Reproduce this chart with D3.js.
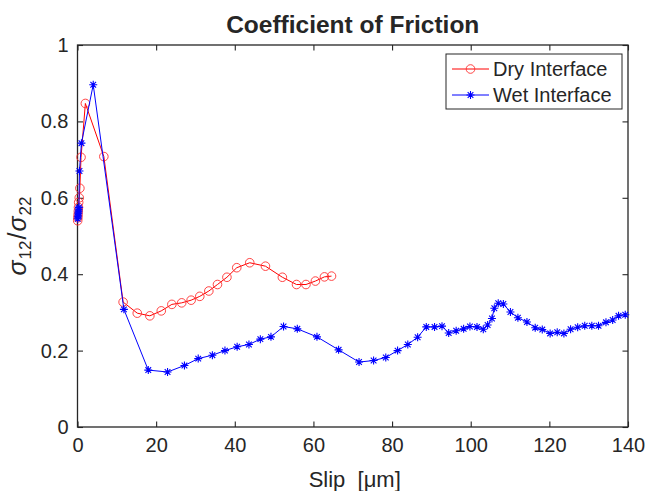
<!DOCTYPE html>
<html>
<head>
<meta charset="utf-8">
<script src="https://cdn.jsdelivr.net/npm/d3@7"></script>
<style>
  body { margin: 0; background: #fff; }
  text { font-family: "Liberation Sans", Arial, sans-serif; fill: #262626; }
</style>
</head>
<body>
<div id="drawArea"></div>
<script>
// slip in µm vs sigma12/sigma22
var dryX = [0.05, 0.1, 0.15, 0.2, 0.25, 0.3, 0.45, 0.6, 0.9, 2.0, 6.7, 11.6, 15.2, 18.4, 21.3, 24.0, 26.5, 28.9, 31.1, 33.4, 35.6, 38.0, 40.5, 43.8, 47.8, 52.1, 55.7, 58.1, 60.5, 62.8, 64.6];
var dryY = [0.540, 0.548, 0.556, 0.565, 0.575, 0.588, 0.600, 0.625, 0.706, 0.847, 0.708, 0.327, 0.298, 0.291, 0.304, 0.321, 0.325, 0.332, 0.342, 0.356, 0.373, 0.392, 0.417, 0.430, 0.421, 0.392, 0.373, 0.373, 0.382, 0.393, 0.395];

var wetX = [0.05, 0.1, 0.15, 0.2, 0.25, 0.3, 0.35, 0.5, 1.0, 4.0, 11.8, 18.0, 22.9, 27.2, 30.7, 34.3, 37.5, 40.6, 43.6, 46.5, 49.2, 52.4, 55.9, 60.9, 66.4, 71.6, 75.3, 78.4, 81.4, 84.0, 86.5, 88.7, 90.8, 92.7, 94.4, 96.3, 98.2, 99.8, 101.6, 103.2, 104.3, 105.4, 106.0, 107.0, 108.3, 110.1, 112.0, 114.3, 116.4, 118.2, 120.2, 122.0, 123.7, 125.4, 127.2, 129.0, 130.8, 132.5, 134.4, 136.1, 137.6, 139.3];
var wetY = [0.545, 0.550, 0.555, 0.560, 0.565, 0.570, 0.575, 0.670, 0.743, 0.896, 0.308, 0.149, 0.144, 0.161, 0.179, 0.188, 0.200, 0.210, 0.216, 0.230, 0.236, 0.263, 0.257, 0.236, 0.202, 0.170, 0.174, 0.182, 0.200, 0.216, 0.235, 0.262, 0.262, 0.264, 0.246, 0.252, 0.257, 0.263, 0.262, 0.256, 0.267, 0.284, 0.311, 0.324, 0.322, 0.301, 0.286, 0.275, 0.260, 0.255, 0.245, 0.248, 0.245, 0.256, 0.261, 0.265, 0.265, 0.265, 0.274, 0.280, 0.291, 0.294];

var xTicks = [0, 20, 40, 60, 80, 100, 120, 140];
var yTicks = [0, 0.2, 0.4, 0.6, 0.8, 1];
var seriesNames = ["Dry Interface", "Wet Interface"];

// plot box
var margin = {top: 45, right: 20, bottom: 64, left: 77.5},
    width = 648 - margin.left - margin.right,
    height = 491 - margin.top - margin.bottom;

var svg = d3.select("#drawArea")
  .append("svg")
  .attr("width", 648)
  .attr("height", 491);

var g = svg.append("g")
  .attr("transform", "translate(" + margin.left + "," + margin.top + ")");

var x = d3.scaleLinear().domain([0, 140]).range([0, width]);
var y = d3.scaleLinear().domain([0, 1]).range([height, 0]);

var dark = "#262626";
var tickLen = 5.5;

// axes, ticks pointing inward
var xb = g.append("g").attr("transform", "translate(0," + height + ")")
  .call(d3.axisBottom(x).tickValues(xTicks).tickSizeInner(-tickLen).tickSizeOuter(0).tickPadding(11));
var xt = g.append("g")
  .call(d3.axisTop(x).tickValues(xTicks).tickSizeInner(-tickLen).tickSizeOuter(0).tickFormat(""));
var yl = g.append("g")
  .call(d3.axisLeft(y).tickValues(yTicks).tickSizeInner(-tickLen).tickSizeOuter(0).tickPadding(9).tickFormat(d3.format("~g")));
var yr = g.append("g").attr("transform", "translate(" + width + ",0)")
  .call(d3.axisRight(y).tickValues(yTicks).tickSizeInner(-tickLen).tickSizeOuter(0).tickFormat(""));

[xb, xt, yl, yr].forEach(function(a) {
  a.select(".domain").remove();
  a.selectAll("line").attr("stroke", dark).attr("stroke-width", 1.1);
  a.selectAll("text").attr("font-size", 20).attr("fill", "#404040")
    .attr("font-family", "Liberation Sans, Arial, sans-serif");
});

g.append("rect")
  .attr("width", width).attr("height", height)
  .attr("fill", "none").attr("stroke", dark).attr("stroke-width", 1.3);

function pts(xs, ys) {
  return xs.map(function(v, i) { return {x: v, y: ys[i]}; });
}
var dry = pts(dryX, dryY);
var wet = pts(wetX, wetY);

var line = d3.line().x(function(d) { return x(d.x); }).y(function(d) { return y(d.y); });

// asterisk marker like matlab '*'
function star(r) {
  var k = r * 0.7071;
  return "M" + (-r) + ",0L" + r + ",0M0," + (-r) + "L0," + r +
    "M" + (-k) + "," + (-k) + "L" + k + "," + k + "M" + (-k) + "," + k + "L" + k + "," + (-k);
}

g.append("path").datum(dry)
  .attr("fill", "none").attr("stroke", "#ff0000").attr("stroke-width", 1)
  .attr("d", line);
g.selectAll(".dry").data(dry).enter()
  .append("circle").attr("class", "dry")
  .attr("cx", function(d) { return x(d.x); })
  .attr("cy", function(d) { return y(d.y); })
  .attr("r", 4.3)
  .attr("fill", "none").attr("stroke", "#ff3030").attr("stroke-width", 0.9);

g.append("path").datum(wet)
  .attr("fill", "none").attr("stroke", "#0000ff").attr("stroke-width", 1)
  .attr("d", line);
g.selectAll(".wet").data(wet).enter()
  .append("path").attr("class", "wet")
  .attr("transform", function(d) { return "translate(" + x(d.x) + "," + y(d.y) + ")"; })
  .attr("d", star(4))
  .attr("fill", "none").attr("stroke", "#0000ff").attr("stroke-width", 1.1);

// title and labels
svg.append("text")
  .attr("x", margin.left + width / 2).attr("y", 33)
  .attr("text-anchor", "middle")
  .attr("font-size", 24.5).attr("font-weight", "bold").attr("fill", "#000")
  .text("Coefficient of Friction");

svg.append("text")
  .attr("x", margin.left + width / 2 + 2).attr("y", 487)
  .attr("text-anchor", "middle")
  .attr("font-size", 22).attr("fill", "#404040")
  .text("Slip\u00a0\u00a0[\u03bcm]");

var yLab = svg.append("text")
  .attr("transform", "translate(26," + (margin.top + height / 2) + ") rotate(-90)")
  .attr("text-anchor", "middle")
  .attr("font-family", "Liberation Serif, DejaVu Serif, serif")
  .attr("font-size", 25).attr("fill", "#000");
yLab.append("tspan").attr("font-style", "italic").text("\u03c3");
yLab.append("tspan").attr("font-size", 17).attr("dy", 5).attr("dx", 1).text("12");
yLab.append("tspan").attr("dy", -5).attr("dx", 1).text("/");
yLab.append("tspan").attr("font-style", "italic").attr("dx", 1).text("\u03c3");
yLab.append("tspan").attr("font-size", 17).attr("dy", 5).attr("dx", 1).text("22");

// legend
var lg = svg.append("g").attr("transform", "translate(446,54)");
lg.append("rect").attr("width", 176).attr("height", 55)
  .attr("fill", "#fff").attr("stroke", dark).attr("stroke-width", 1);
var rows = lg.selectAll(".row").data(seriesNames).enter()
  .append("g").attr("class", "row")
  .attr("transform", function(d, i) { return "translate(0," + (15 + i * 26) + ")"; });
rows.append("line").attr("x1", 6).attr("x2", 43)
  .attr("stroke", function(d, i) { return i === 0 ? "#ff0000" : "#0000ff"; })
  .attr("stroke-width", 1);
rows.filter(function(d, i) { return i === 0; }).append("circle")
  .attr("cx", 24.5).attr("r", 4.3).attr("fill", "none").attr("stroke", "#ff3030").attr("stroke-width", 0.9);
rows.filter(function(d, i) { return i === 1; }).append("path")
  .attr("transform", "translate(24.5,0)").attr("d", star(4))
  .attr("fill", "none").attr("stroke", "#0000ff").attr("stroke-width", 1.1);
rows.append("text").attr("x", 47).attr("y", 7)
  .attr("font-size", 20).attr("fill", "#262626")
  .text(function(d) { return d; });
</script>
</body>
</html>
